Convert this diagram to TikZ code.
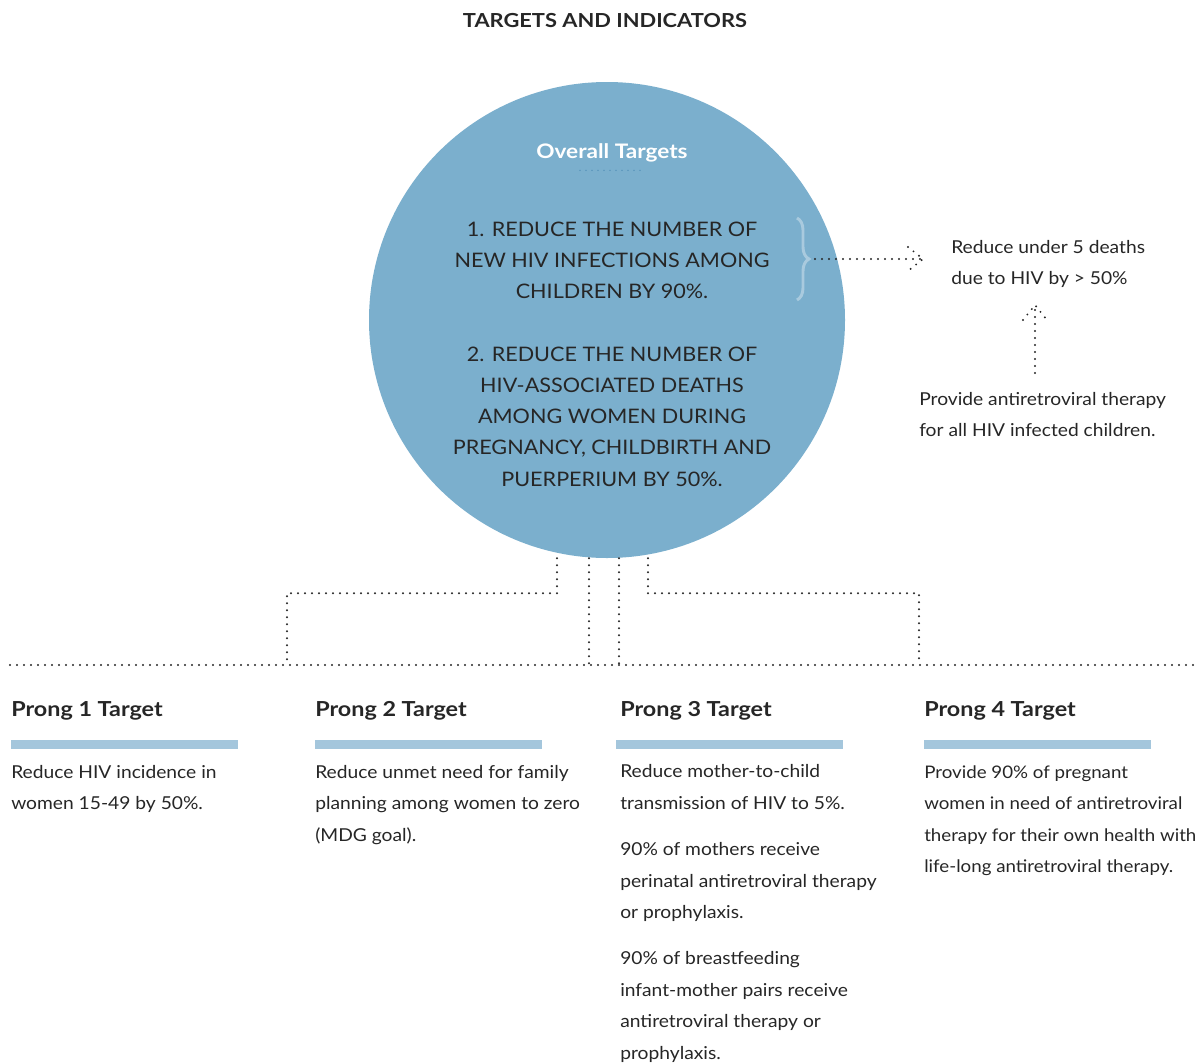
\documentclass[tikz,border=0pt]{standalone}
\usepackage{fontspec}
\setmainfont{Lato}[FakeStretch=1.08,BoldFeatures={FakeStretch=1.13}]
\usepackage{tikz}
\usetikzlibrary{calc,decorations.pathreplacing}
\definecolor{circblue}{RGB}{123,175,205}
\definecolor{barblue}{RGB}{164,198,220}
\definecolor{dotblue}{RGB}{78,140,182}
\definecolor{inkgray}{RGB}{38,38,38}
\tikzset{
  dots/.style={line width=1.6pt,dash pattern=on 0pt off 5.25pt,line cap=round,draw=inkgray},
  body/.style={anchor=base west,inner sep=0pt,align=left,text=inkgray,
    font=\fontsize{13.35}{23.6}\selectfont},
  capsbody/.style={anchor=base,inner sep=0pt,align=center,text=inkgray,
    font=\fontsize{15}{23.4}\selectfont},
  pronghead/.style={anchor=base west,inner sep=0pt,text=inkgray,
    font=\fontsize{15.5}{18}\selectfont\bfseries},
}

\begin{document}
\begin{tikzpicture}[x=0.75pt,y=-0.75pt]
  \useasboundingbox (0,0) rectangle (1200,1064);
  \node[anchor=base,inner sep=0pt,text=inkgray,font=\fontsize{14.5}{18}\selectfont\bfseries]
    (title) at (605,27) {TARGETS AND INDICATORS};

  % overall targets (multi-line nodes sit on their last baseline)
  \node[circle,fill=circblue,minimum size=357pt,inner sep=0pt] (overall) at (607,320) {};
  \node[anchor=base,inner sep=0pt,text=white,font=\fontsize{15}{18}\selectfont\bfseries]
    (otitle) at (612,158.5) {Overall Targets};
  \draw[dotblue,line width=1pt,dash pattern=on 0pt off 4.5pt,line cap=round]
    ($(otitle.south)+(-32,8)$) -- ($(otitle.south)+(34,8)$);
  \node[capsbody] (goals) at (612,486) {1. REDUCE THE NUMBER OF\\NEW HIV INFECTIONS AMONG\\CHILDREN BY 90\%.\\[23.4pt]
    2. REDUCE THE NUMBER OF\\HIV-ASSOCIATED DEATHS\\AMONG WOMEN DURING\\PREGNANCY, CHILDBIRTH AND\\PUERPERIUM BY 50\%.};
  \draw[white,opacity=0.35,line width=2.2pt,decorate,decoration={brace,amplitude=9pt}]
    (797,218) -- (797,300);

  % under 5 deaths
  \node[body] (deaths) at (951,284.5) {Reduce under 5 deaths\\due to HIV by > 50\%};
  \node[body] (arv) at (919,436.5) {Provide antiretroviral therapy\\for all HIV infected children.};
  \coordinate (bracetip) at (815,259);
  \coordinate (tipR) at (923,259);
  \coordinate (tipU) at (1035,305);
  \coordinate (baseU) at (1035,373);
  \draw[dots] (bracetip) -- (tipR);
  \draw[dots] ($(tipR)+(-15,-12)$) -- (tipR) -- ($(tipR)+(-15,12)$);
  \draw[dots] (baseU) -- (tipU);
  \draw[dots] ($(tipU)+(-12,15)$) -- (tipU) -- ($(tipU)+(12,15)$);

  % connectors to the prongs
  \coordinate (rowL) at (10,665);
  \coordinate (rowR) at (1198,665);
  \coordinate (p1) at (287,665);
  \coordinate (p2) at (589,665);
  \coordinate (p3) at (619,665);
  \coordinate (p4) at (919,665);
  \draw[dots] (rowL) -- (rowR);
  \draw[dots] ($(overall.south)+(-50,0)$) -- ++(0,35) -| (p1);
  \draw[dots] ($(overall.south)+(-18,0)$) -- (p2);
  \draw[dots] ($(overall.south)+(12,0)$) -- (p3);
  \draw[dots] ($(overall.south)+(41,0)$) -- ++(0,35) -| (p4);

  % prongs
  \foreach \n/\x/\bx in {1/11/11,2/315/315,3/620/616,4/924/924}{
    \node[pronghead] (prong\n) at (\x,716) {Prong \n\ Target};
    \fill[barblue] (\bx,740) rectangle ++(227,9);
  }
  \node[body] (t1) at (11,809.5) {Reduce HIV incidence in\\women 15-49 by 50\%.};
  \node[body] (t2) at (315,841) {Reduce unmet need for family\\planning among women to zero\\(MDG goal).};
  \node[body] (t3) at (620,1059) {Reduce mother-to-child\\transmission of HIV to 5\%.\\[11pt]
    90\% of mothers receive\\perinatal antiretroviral therapy\\or prophylaxis.\\[11pt]
    90\% of breastfeeding\\infant-mother pairs receive\\antiretroviral therapy or\\prophylaxis.};
  \node[body,font=\fontsize{13}{23.6}\selectfont] (t4) at (924,872.5) {Provide 90\% of pregnant\\women in need of antiretroviral\\therapy for their own health with\\life-long antiretroviral therapy.};
\end{tikzpicture}
\end{document}
